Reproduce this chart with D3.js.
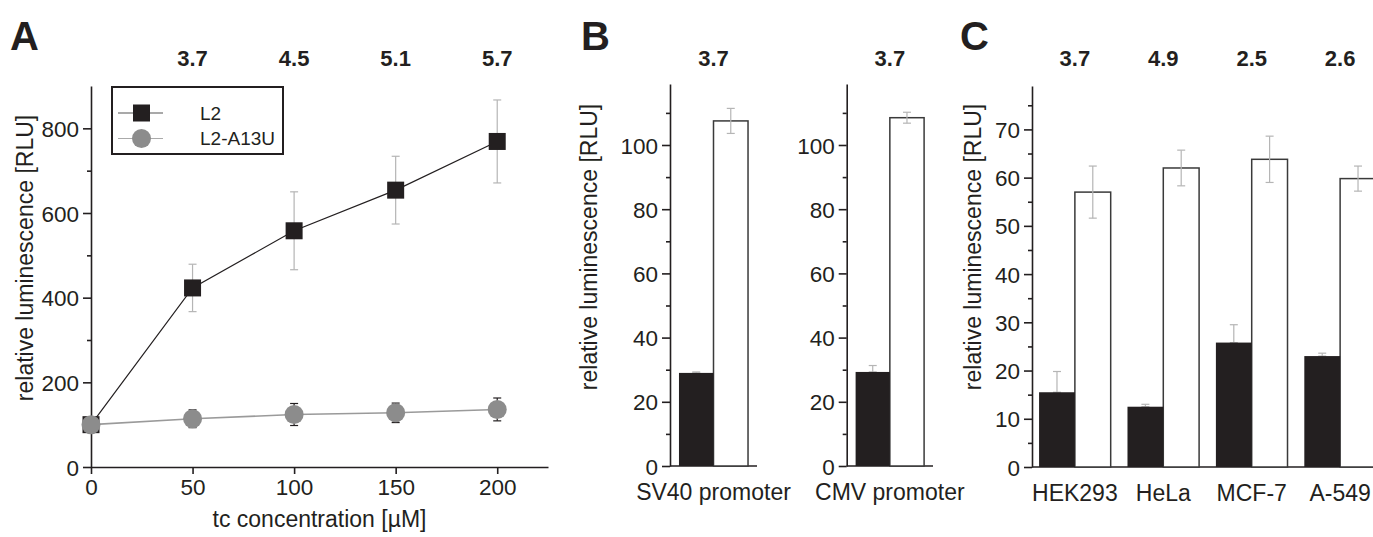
<!DOCTYPE html>
<html>
<head>
<meta charset="utf-8">
<script src="https://cdn.jsdelivr.net/npm/d3@7"></script>
<style>
  body { margin: 0; background: #fff; }
  svg { display: block; font-family: "Liberation Sans", Arial, sans-serif; }
  .axis path, .axis line { stroke: #231f20; stroke-width: 1.6; }
  .axis text { font-size: 22.5px; fill: #231f20; }
</style>
</head>
<body>
<div id="chart"></div>
<script>
// panel A data
var concentrations = [0, 50, 100, 150, 200];
var l2Mean = [100, 423, 558, 654, 769];
var l2Err = [12, 56, 92, 80, 98];
var a13uMean = [100, 114, 124, 128, 136];
var a13uErr = [15, 21, 26, 23, 27];
var foldA = ["3.7", "4.5", "5.1", "5.7"];
var legendNames = ["L2", "L2-A13U"];

// panel B data
var promoters = ["SV40 promoter", "CMV promoter"];
var promBlack = [29, 29.3];
var promBlackErr = [0.3, 2];
var promWhite = [107.5, 108.5];
var promWhiteErr = [3.9, 1.7];
var foldB = ["3.7", "3.7"];

// panel C data
var cells = ["HEK293", "HeLa", "MCF-7", "A-549"];
var cellBlack = [15.5, 12.5, 25.8, 23.0];
var cellBlackErr = [4.3, 0.5, 3.7, 0.6];
var cellWhite = [57.0, 62.0, 63.8, 59.8];
var cellWhiteErr = [5.4, 3.7, 4.8, 2.6];
var foldC = ["3.7", "4.9", "2.5", "2.6"];

var ink = "#231f20";
var errGray = "#b5b5b5";

var svg = d3.select("#chart").append("svg")
    .attr("width", 1373)
    .attr("height", 537);

svg.append("rect").attr("width", 1373).attr("height", 537).attr("fill", "#fff");

function panelLetter(txt, x) {
  svg.append("text")
      .attr("x", x).attr("y", 50)
      .attr("font-size", 40).attr("font-weight", "bold")
      .attr("fill", ink)
      .text(txt);
}

function foldText(txt, x) {
  svg.append("text")
      .attr("x", x).attr("y", 66)
      .attr("text-anchor", "middle")
      .attr("font-size", 22).attr("font-weight", "bold")
      .attr("fill", ink)
      .text(txt);
}

function yTitle(x, y) {
  svg.append("text")
      .attr("transform", "translate(" + x + "," + y + ") rotate(-90)")
      .attr("text-anchor", "middle")
      .attr("dominant-baseline", "central")
      .attr("font-size", 23)
      .attr("fill", ink)
      .text("relative luminescence [RLU]");
}

// y axis with long major ticks and short minor ticks
function drawY(y, x0, majors, minors) {
  svg.append("g")
      .attr("class", "axis")
      .attr("transform", "translate(" + x0 + ",0)")
      .call(d3.axisLeft(y).tickValues(minors).tickSize(4).tickFormat(""))
      .select(".domain").remove();
  svg.append("g")
      .attr("class", "axis")
      .attr("transform", "translate(" + x0 + ",0)")
      .call(d3.axisLeft(y).tickValues(majors).tickSize(8).tickPadding(4).tickSizeOuter(0))
      .selectAll("text").attr("dy", "0.36em");
}

function errBars(g, data, color, cap) {
  var sel = g.selectAll(null).data(data).enter().append("g")
      .attr("stroke", color).attr("stroke-width", 1.2);
  sel.append("line")
      .attr("x1", function(d) { return d.x; }).attr("x2", function(d) { return d.x; })
      .attr("y1", function(d) { return d.lo; }).attr("y2", function(d) { return d.hi; });
  sel.append("line")
      .attr("x1", function(d) { return d.x - cap; }).attr("x2", function(d) { return d.x + cap; })
      .attr("y1", function(d) { return d.hi; }).attr("y2", function(d) { return d.hi; });
  sel.append("line")
      .attr("x1", function(d) { return d.x - cap; }).attr("x2", function(d) { return d.x + cap; })
      .attr("y1", function(d) { return d.lo; }).attr("y2", function(d) { return d.lo; });
}

// ---------- panel A ----------
var xA = d3.scaleLinear().domain([0, 225]).range([91, 548]);
var yA = d3.scaleLinear().domain([0, 900]).range([467, 86]);

panelLetter("A", 10);
foldA.forEach(function(t, i) { foldText(t, xA(concentrations[i + 1])); });

drawY(yA, 91, [0, 200, 400, 600, 800], [100, 300, 500, 700]);
svg.append("g")
    .attr("class", "axis")
    .attr("transform", "translate(0,467)")
    .call(d3.axisBottom(xA).tickValues(concentrations).tickSize(7).tickPadding(5).tickSizeOuter(0));
yTitle(25, 258);
svg.append("text")
    .attr("x", xA(112.5)).attr("y", 527)
    .attr("text-anchor", "middle")
    .attr("font-size", 23).attr("fill", ink)
    .text("tc concentration [µM]");

var gA = svg.append("g");
var l2 = concentrations.map(function(c, i) { return {c: c, v: l2Mean[i], e: l2Err[i]}; });
var mut = concentrations.map(function(c, i) { return {c: c, v: a13uMean[i], e: a13uErr[i]}; });
var lineA = d3.line().x(function(d) { return xA(d.c); }).y(function(d) { return yA(d.v); });

errBars(gA, l2.map(function(d) { return {x: xA(d.c), lo: yA(d.v - d.e), hi: yA(d.v + d.e)}; }), errGray, 4);
gA.append("path").datum(l2).attr("d", lineA).attr("fill", "none").attr("stroke", ink).attr("stroke-width", 1.2);
gA.selectAll(".sq").data(l2).enter().append("rect")
    .attr("x", function(d) { return xA(d.c) - 8.5; })
    .attr("y", function(d) { return yA(d.v) - 8.5; })
    .attr("width", 17).attr("height", 17)
    .attr("fill", ink);

errBars(gA, mut.map(function(d) { return {x: xA(d.c), lo: yA(d.v - d.e), hi: yA(d.v + d.e)}; }), ink, 4);
gA.append("path").datum(mut).attr("d", lineA).attr("fill", "none").attr("stroke", "#9a9a9a").attr("stroke-width", 1.6);
gA.selectAll(".ci").data(mut).enter().append("circle")
    .attr("cx", function(d) { return xA(d.c); })
    .attr("cy", function(d) { return yA(d.v); })
    .attr("r", 9.5)
    .attr("fill", "#8c8c8c");

// legend
var lg = svg.append("g");
lg.append("rect").attr("x", 112).attr("y", 87).attr("width", 171).attr("height", 67)
    .attr("fill", "#fff").attr("stroke", ink).attr("stroke-width", 2);
[0, 1].forEach(function(i) {
  var yy = 113 + i * 25.5;
  lg.append("line").attr("x1", 118).attr("x2", 163).attr("y1", yy).attr("y2", yy)
      .attr("stroke", i === 0 ? "#555" : "#aaa").attr("stroke-width", 1.2);
  if (i === 0) {
    lg.append("rect").attr("x", 133).attr("y", yy - 8.5).attr("width", 17).attr("height", 17).attr("fill", ink);
  } else {
    lg.append("circle").attr("cx", 141.5).attr("cy", yy).attr("r", 9.5).attr("fill", "#8c8c8c");
  }
  lg.append("text").attr("x", 200).attr("y", yy).attr("dy", "0.36em")
      .attr("font-size", 19).attr("fill", ink).text(legendNames[i]);
});

// ---------- grouped bar helper ----------
function barGroup(x, sub, y, i, blackV, blackE, whiteV, whiteE) {
  var g = svg.append("g");
  var xw = x + sub("white");
  var xb = x + sub("black");
  var bw = sub.bandwidth();
  g.append("rect").attr("x", xw).attr("y", y(whiteV)).attr("width", bw).attr("height", y(0) - y(whiteV))
      .attr("fill", "#fff").attr("stroke", "#3a3a3a").attr("stroke-width", 1.5);
  errBars(g, [{x: xw + bw / 2, lo: y(whiteV - whiteE), hi: y(whiteV + whiteE)},
              {x: xb + bw / 2, lo: y(blackV), hi: y(blackV + blackE)}], errGray, 4);
  g.append("rect").attr("x", xb).attr("y", y(blackV)).attr("width", bw).attr("height", y(0) - y(blackV))
      .attr("fill", ink);
}

// ---------- panel B ----------
panelLetter("B", 581);
var yB = d3.scaleLinear().domain([0, 119]).range([466, 84]);
var bAxes = [670, 846.7];
var bEnds = [757, 933];
promoters.forEach(function(p, i) {
  var xB = d3.scaleBand().domain([p]).range([bAxes[i], bEnds[i]]).paddingOuter(0.13).paddingInner(0);
  var sub = d3.scaleBand().domain(["black", "white"]).range([0, xB.bandwidth()]);
  drawY(yB, bAxes[i], [0, 20, 40, 60, 80, 100], [10, 30, 50, 70, 90, 110]);
  svg.append("line").attr("x1", bAxes[i]).attr("x2", bEnds[i]).attr("y1", yB(0)).attr("y2", yB(0))
      .attr("stroke", ink).attr("stroke-width", 1.6);
  barGroup(xB(p), sub, yB, i, promBlack[i], promBlackErr[i], promWhite[i], promWhiteErr[i]);
  svg.append("text").attr("x", xB(p) + xB.bandwidth() / 2).attr("y", 500)
      .attr("text-anchor", "middle").attr("font-size", 23).attr("fill", ink).text(p);
  foldText(foldB[i], xB(p) + xB.bandwidth() / 2);
});
yTitle(589, 247);

// ---------- panel C ----------
panelLetter("C", 960);
var yC = d3.scaleLinear().domain([0, 79]).range([467, 86]);
var xC = d3.scaleBand().domain(cells).range([1032, 1383]).paddingInner(0.19).paddingOuter(0.08);
var subC = d3.scaleBand().domain(["black", "white"]).range([0, xC.bandwidth()]);
drawY(yC, 1032, [0, 10, 20, 30, 40, 50, 60, 70], [5, 15, 25, 35, 45, 55, 65, 75]);
svg.append("line").attr("x1", 1032).attr("x2", 1383).attr("y1", yC(0)).attr("y2", yC(0))
    .attr("stroke", ink).attr("stroke-width", 1.6);
cells.forEach(function(c, i) {
  barGroup(xC(c), subC, yC, i, cellBlack[i], cellBlackErr[i], cellWhite[i], cellWhiteErr[i]);
  svg.append("text").attr("x", xC(c) + xC.bandwidth() / 2).attr("y", 501)
      .attr("text-anchor", "middle").attr("font-size", 23).attr("fill", ink).text(c);
  foldText(foldC[i], xC(c) + xC.bandwidth() / 2);
});
yTitle(973, 247);
</script>
</body>
</html>
